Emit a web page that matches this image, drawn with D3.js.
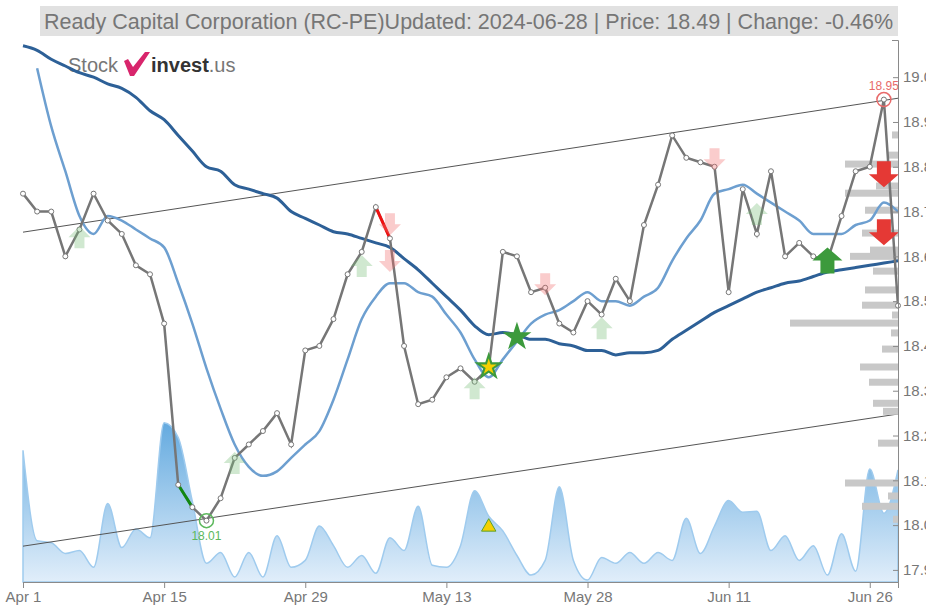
<!DOCTYPE html>
<html lang="en"><head>
<meta charset="utf-8">
<title>Ready Capital Corporation (RC-PE)</title>
<script src="https://cdn.jsdelivr.net/npm/d3@7"></script>
<style>
 body { margin: 0; background: #fff; overflow: hidden; }
 svg { display: block; }
 .axis text { fill: #777; font-family: "Liberation Sans", Arial, sans-serif; font-size: 15px; }
 .axis path, .axis line { stroke: #8a8a8a; }
</style>
</head>
<body>
<script>
// trading days, Apr 1 - Jun 28 2024
var dates = [
 "2024-04-01","2024-04-02","2024-04-03","2024-04-04","2024-04-05","2024-04-08","2024-04-09","2024-04-10","2024-04-11","2024-04-12",
 "2024-04-15","2024-04-16","2024-04-17","2024-04-18","2024-04-19","2024-04-22","2024-04-23","2024-04-24","2024-04-25","2024-04-26",
 "2024-04-29","2024-04-30","2024-05-01","2024-05-02","2024-05-03","2024-05-06","2024-05-07","2024-05-08","2024-05-09","2024-05-10",
 "2024-05-13","2024-05-14","2024-05-15","2024-05-16","2024-05-17","2024-05-20","2024-05-21","2024-05-22","2024-05-23","2024-05-24",
 "2024-05-28","2024-05-29","2024-05-30","2024-05-31","2024-06-03","2024-06-04","2024-06-05","2024-06-06","2024-06-07","2024-06-10",
 "2024-06-11","2024-06-12","2024-06-13","2024-06-14","2024-06-17","2024-06-18","2024-06-20","2024-06-21","2024-06-24","2024-06-25",
 "2024-06-26","2024-06-27","2024-06-28"];

var closes = [
 18.74,18.70,18.70,18.60,18.66,18.74,18.68,18.65,18.58,18.56,
 18.45,18.09,18.04,18.01,18.06,18.15,18.18,18.21,18.25,18.18,
 18.39,18.40,18.46,18.56,18.61,18.71,18.64,18.40,18.27,18.28,
 18.33,18.35,18.32,18.35,18.61,18.60,18.52,18.53,18.45,18.43,
 18.50,18.47,18.55,18.50,18.67,18.76,18.87,18.82,18.81,18.80,
 18.52,18.75,18.65,18.79,18.60,18.63,18.60,18.59,18.69,18.79,
 18.80,18.95,18.49];

var shortMA = [
 null,19.02,18.89,18.79,18.69,18.65,18.69,18.68,18.66,18.64,
 18.62,18.54,18.45,18.35,18.26,18.18,18.13,18.11,18.12,18.15,
 18.18,18.21,18.28,18.37,18.46,18.51,18.54,18.54,18.52,18.51,
 18.47,18.43,18.37,18.33,18.37,18.41,18.45,18.47,18.48,18.50,
 18.52,18.50,18.50,18.49,18.51,18.53,18.59,18.64,18.68,18.74,
 18.75,18.76,18.74,18.72,18.70,18.68,18.65,18.65,18.65,18.67,
 18.68,18.72,18.70];

var longMA = [
 19.07,19.06,19.04,19.025,19.01,19.00,18.985,18.975,18.955,18.925,
 18.905,18.87,18.835,18.80,18.79,18.76,18.75,18.74,18.73,18.70,
 18.685,18.67,18.655,18.65,18.64,18.63,18.62,18.595,18.57,18.54,
 18.51,18.48,18.445,18.425,18.43,18.425,18.415,18.415,18.405,18.40,
 18.39,18.39,18.38,18.385,18.385,18.39,18.415,18.435,18.455,18.475,
 18.49,18.505,18.52,18.53,18.54,18.545,18.555,18.565,18.57,18.575,
 18.58,18.585,18.59];

var volumes = [
 13400,4200,4000,2900,3200,1500,8000,3500,5400,4500,
 16200,14700,8200,1900,3000,500,3000,500,4700,1500,
 2200,5700,3700,1500,2700,900,4500,3200,7700,1700,
 1500,3700,9300,6700,5200,2700,700,2200,9700,2200,
 200,2500,1900,3000,1900,3000,2200,6500,2900,5700,
 8300,7100,7200,3200,4700,2200,3700,700,4900,1100,
 11500,7000,11400];

// trend channel (start / end of period)
var channelUpper = [18.654, 18.953];
var channelLower = [17.953, 18.248];

// volume profile on the right
var profileLevels = [18.871,18.826,18.806,18.757,18.741,18.703,18.652,18.614,18.600,18.567,18.525,18.491,18.469,
                     18.451,18.429,18.393,18.353,18.319,18.272,18.254,18.183,18.094,18.065,18.042,18.013];
var profileVolumes = [6,10,53,22,53,33,36,28,48,25,33,36,6,108,7,16,38,29,25,15,20,53,10,36,5];

// signals
var weakBuyDates = ["2024-04-05","2024-04-22","2024-05-03","2024-05-15","2024-05-29","2024-06-13"];
var weakBuyLevels = [18.667,18.163,18.603,18.33,18.464,18.719];
var weakSellDates = ["2024-05-07","2024-05-07","2024-05-22","2024-06-10"];
var weakSellLevels = [18.647,18.565,18.513,18.792];
var strongBuyDates = ["2024-06-21"];
var strongBuyLevels = [18.62];
var strongSellDates = ["2024-06-27","2024-06-27"];
var strongSellLevels = [18.754,18.625];
var starDates = ["2024-05-16","2024-05-20"];
var starLevels = [18.353,18.42];
var triangleDate = "2024-05-16";
var triangleVolume = 5600;
var highDate = "2024-06-27", highValue = 18.95;
var lowDate = "2024-04-18", lowValue = 18.01;
var redSegment = ["2024-05-06","2024-05-07"];
var greenSegment = ["2024-04-16","2024-04-17"];

var xTicks = ["2024-04-01","2024-04-15","2024-04-29","2024-05-13","2024-05-28","2024-06-11","2024-06-26"];
var yTicks = [17.9,18.0,18.1,18.2,18.3,18.4,18.5,18.6,18.7,18.8,18.9,19.0];

var width = 926, height = 608;
var plotLeft = 23, plotRight = 898, plotTop = 40, plotBottom = 582;

var parse = d3.timeParse("%Y-%m-%d");
var fmt = d3.timeFormat("%b %-d");

var x = d3.scalePoint().domain(dates).range([plotLeft, plotRight]);
var y = d3.scaleLinear().domain([17.873, 19.083]).range([plotBottom, plotTop]);
var yVol = d3.scaleLinear().domain([0, 17000]).range([plotBottom, 415]);
var wProfile = d3.scaleLinear().domain([0, 108]).range([0, 108]);

var svg = d3.select("body").append("svg")
            .attr("width", width)
            .attr("height", height);

var defs = svg.append("defs");
var grad = defs.append("linearGradient")
               .attr("id", "volGrad")
               .attr("gradientUnits", "userSpaceOnUse")
               .attr("x1", 0).attr("x2", 0)
               .attr("y1", 415).attr("y2", plotBottom);
grad.append("stop").attr("offset", 0).attr("stop-color", "#5ea7de");
grad.append("stop").attr("offset", 1).attr("stop-color", "#e1eefa");

// title bar
svg.append("rect")
   .attr("x", 40).attr("y", 6)
   .attr("width", plotRight - 40).attr("height", 30)
   .attr("fill", "#e1e1e1");
svg.append("text")
   .attr("x", plotRight - 5).attr("y", 29)
   .attr("text-anchor", "end")
   .attr("font-family", "'Liberation Sans', Arial, sans-serif")
   .attr("font-size", 21.5)
   .attr("fill", "#767676")
   .text("Ready Capital Corporation (RC-PE)Updated: 2024-06-28 | Price: 18.49 | Change: -0.46%");

// logo
var logo = svg.append("g").attr("font-family", "'Liberation Sans', Arial, sans-serif").attr("font-size", 20);
logo.append("text").attr("x", 68).attr("y", 72).attr("fill", "#777").text("Stock");
logo.append("path")
    .attr("d", "M124,61 L128,59 L133,67 L145,52 L150,52 L134,76 L130,76 Z")
    .attr("fill", "#d8256c");
var brand = logo.append("text").attr("x", 151).attr("y", 72);
brand.append("tspan").attr("fill", "#333").attr("font-weight", "bold").text("invest");
brand.append("tspan").attr("fill", "#777").text(".us");

// volume area
var area = d3.area()
             .x(function(d, i) { return x(dates[i]); })
             .y0(plotBottom)
             .y1(function(d) { return yVol(d); })
             .curve(d3.curveMonotoneX);
svg.append("path")
   .datum(volumes)
   .attr("d", area)
   .attr("fill", "url(#volGrad)")
   .attr("stroke", "#9fcbee")
   .attr("stroke-width", 1.5);

// channel
svg.append("line")
   .attr("x1", x(dates[0])).attr("y1", y(channelUpper[0]))
   .attr("x2", x(dates[dates.length - 1])).attr("y2", y(channelUpper[1]))
   .attr("stroke", "#555").attr("stroke-width", 1);
svg.append("line")
   .attr("x1", x(dates[0])).attr("y1", y(channelLower[0]))
   .attr("x2", x(dates[dates.length - 1])).attr("y2", y(channelLower[1]))
   .attr("stroke", "#555").attr("stroke-width", 1);

// volume profile
svg.append("g").selectAll("rect")
   .data(profileLevels)
   .enter()
   .append("rect")
   .attr("x", function(d, i) { return plotRight - wProfile(profileVolumes[i]); })
   .attr("y", function(d) { return y(d) - 3.5; })
   .attr("width", function(d, i) { return wProfile(profileVolumes[i]); })
   .attr("height", 7)
   .attr("fill", "#c8c8c8");

// moving averages
function lineOf(values) {
  return d3.line()
           .defined(function(d) { return d != null; })
           .x(function(d, i) { return x(dates[i]); })
           .y(function(d) { return y(d); })
           .curve(d3.curveMonotoneX)(values);
}
svg.append("path").attr("d", lineOf(longMA))
   .attr("fill", "none").attr("stroke", "#2d6097").attr("stroke-width", 3);
svg.append("path").attr("d", lineOf(shortMA))
   .attr("fill", "none").attr("stroke", "#6d9fd0").attr("stroke-width", 2.5);

// price
svg.append("path")
   .attr("d", d3.line()
                .x(function(d, i) { return x(dates[i]); })
                .y(function(d) { return y(d); })(closes))
   .attr("fill", "none").attr("stroke", "#767676").attr("stroke-width", 2.5);

function segment(pair, color) {
  svg.append("line")
     .attr("x1", x(pair[0])).attr("y1", y(closes[dates.indexOf(pair[0])]))
     .attr("x2", x(pair[1])).attr("y2", y(closes[dates.indexOf(pair[1])]))
     .attr("stroke", color).attr("stroke-width", 3);
}
segment(redSegment, "#ee1111");
segment(greenSegment, "#118811");

svg.append("g").selectAll("circle")
   .data(closes)
   .enter()
   .append("circle")
   .attr("cx", function(d, i) { return x(dates[i]); })
   .attr("cy", function(d) { return y(d); })
   .attr("r", 2.5)
   .attr("fill", "#fff")
   .attr("stroke", "#777")
   .attr("stroke-width", 1);

// arrows (tip at 0,0 pointing up)
var smallArrow = "M0,0 L11,11 L5,11 L5,22 L-5,22 L-5,11 L-11,11 Z";
var bigArrow = "M0,0 L15,13 L7,13 L7,26 L-7,26 L-7,13 L-15,13 Z";

function arrows(ds, levels, path, up, color) {
  svg.append("g").selectAll("path")
     .data(ds)
     .enter()
     .append("path")
     .attr("d", path)
     .attr("fill", color)
     .attr("transform", function(d, i) {
       return "translate(" + x(d) + "," + y(levels[i]) + ")" + (up ? "" : " scale(1,-1)");
     });
}
arrows(weakBuyDates, weakBuyLevels, smallArrow, true, "rgba(120,190,120,0.35)");
arrows(weakSellDates, weakSellLevels, smallArrow, false, "rgba(240,110,110,0.35)");
arrows(strongBuyDates, strongBuyLevels, bigArrow, true, "#3c9a3c");
arrows(strongSellDates, strongSellLevels, bigArrow, false, "#e53935");

// stars
var bigStar = d3.symbol().type(d3.symbolStar).size(260);
svg.append("g").selectAll("path")
   .data(starDates)
   .enter()
   .append("path")
   .attr("d", bigStar)
   .attr("fill", "#3c9a3c")
   .attr("transform", function(d, i) { return "translate(" + x(d) + "," + y(starLevels[i]) + ")"; });
svg.append("path")
   .attr("d", d3.symbol().type(d3.symbolStar).size(80))
   .attr("fill", "#f5d000")
   .attr("transform", "translate(" + x(starDates[0]) + "," + y(starLevels[0]) + ")");

// triangle in volume
svg.append("path")
   .attr("d", d3.symbol().type(d3.symbolTriangle).size(90))
   .attr("fill", "#f5d000")
   .attr("stroke", "#5aa02c")
   .attr("stroke-width", 1)
   .attr("transform", "translate(" + x(triangleDate) + "," + yVol(triangleVolume) + ")");

// high / low markers
svg.append("circle")
   .attr("cx", x(highDate)).attr("cy", y(highValue)).attr("r", 7)
   .attr("fill", "none").attr("stroke", "#e86a6a").attr("stroke-width", 1.5);
svg.append("text")
   .attr("x", x(highDate)).attr("y", y(highValue) - 10)
   .attr("text-anchor", "middle")
   .attr("font-family", "'Liberation Sans', Arial, sans-serif")
   .attr("font-size", 12).attr("fill", "#e86a6a")
   .text(highValue.toFixed(2));
svg.append("circle")
   .attr("cx", x(lowDate)).attr("cy", y(lowValue)).attr("r", 7)
   .attr("fill", "none").attr("stroke", "#5cb85c").attr("stroke-width", 1.5);
svg.append("text")
   .attr("x", x(lowDate)).attr("y", y(lowValue) + 19)
   .attr("text-anchor", "middle")
   .attr("font-family", "'Liberation Sans', Arial, sans-serif")
   .attr("font-size", 12).attr("fill", "#5cb85c")
   .text(lowValue.toFixed(2));

// axes
svg.append("g")
   .attr("class", "axis")
   .attr("transform", "translate(0," + plotBottom + ")")
   .call(d3.axisBottom(x).tickValues(xTicks)
           .tickFormat(function(d) { return fmt(parse(d)); })
           .tickSizeOuter(6));

svg.append("g")
   .attr("class", "axis")
   .attr("transform", "translate(" + plotRight + ",0)")
   .call(d3.axisRight(y).tickValues(yTicks)
           .tickFormat(d3.format(".1f"))
           .tickSizeInner(-5)
           .tickSizeOuter(-6)
           .tickPadding(5));
</script>
</body></html>
